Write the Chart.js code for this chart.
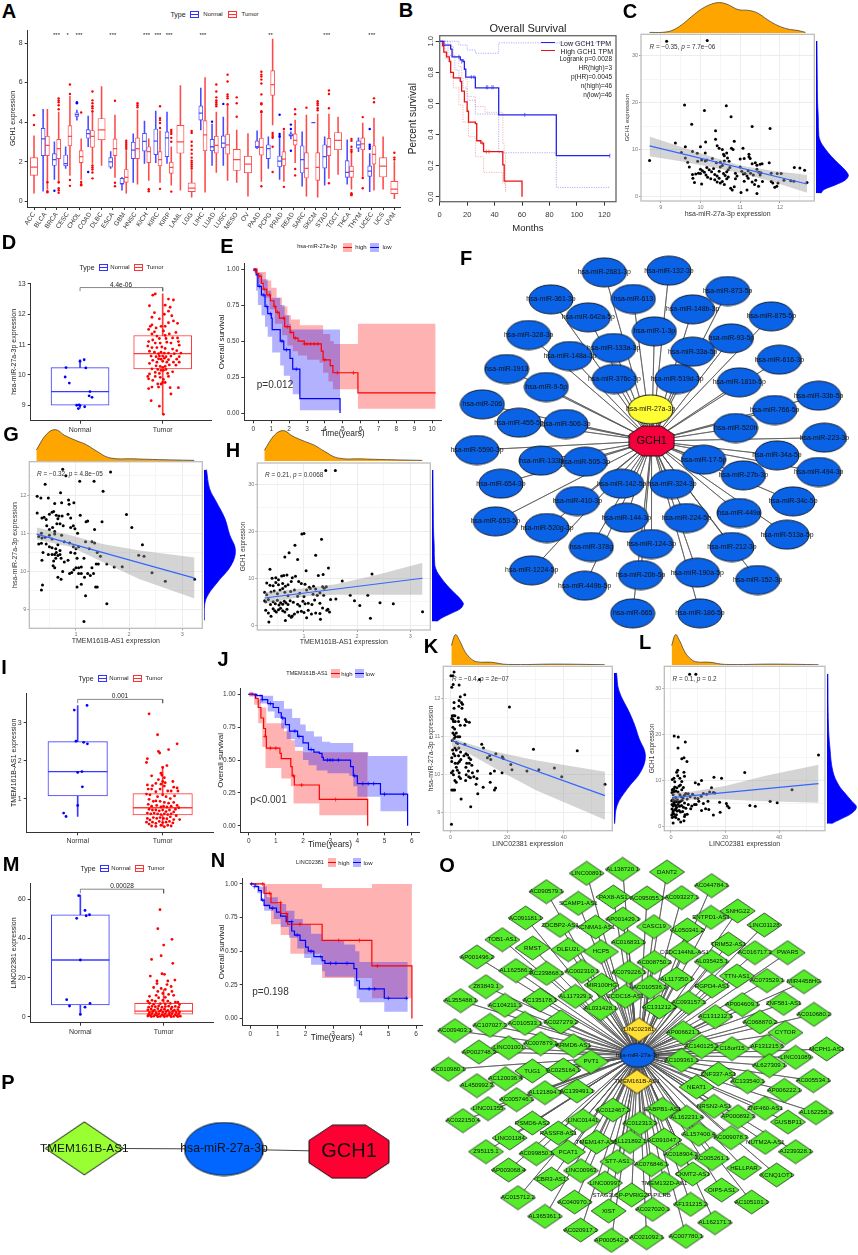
<!DOCTYPE html>
<html>
<head>
<meta charset="utf-8">
<title>GCH1 ceRNA figure</title>
<script src="https://cdn.jsdelivr.net/npm/chart.js@4/dist/chart.umd.min.js"></script>
<style>
  html,body{margin:0;background:#fff;}
  #page{position:relative;width:858px;height:1255px;overflow:hidden;font-family:"Liberation Sans",Arial,sans-serif;}
  #page canvas{position:absolute;}
  .lbl{position:absolute;white-space:nowrap;line-height:1;color:#222;}
  .key{position:absolute;box-sizing:border-box;}
</style>
</head>
<body>
<div id="page"></div>
<script>
// ---------- A: GCH1 across tumour types ----------
const cancerTypes = ['ACC','BLCA','BRCA','CESC','CHOL','COAD','DLBC','ESCA','GBM','HNSC','KICH','KIRC','KIRP','LAML','LGG','LIHC','LUAD','LUSC','MESO','OV','PAAD','PCPG','PRAD','READ','SARC','SKCM','STAD','TGCT','THCA','THYM','UCEC','UCS','UVM'];
const n = null;
const normalLow  = [n,.5,1.1,1.65,4.1,2.75,n,1.65,.55,.95,1.9,1.95,1.9,n,n,3.6,1.8,1.8,n,n,2.65,1.65,1.1,3.15,.75,3.97,.8,n,.85,2.5,.48,n,n];
const normalQ1   = [n,2.3,1.8,1.78,4.28,3.18,n,1.72,.85,2.15,2.53,2.35,2.25,n,n,4.1,2.55,2.7,n,n,2.7,2.15,1.73,3.28,1.42,3.97,1.67,n,1.2,2.68,1.25,n,n];
const normalMed  = [n,3.15,2.1,1.9,4.38,3.42,n,1.98,.88,2.58,3.02,3.03,3.2,n,n,4.45,2.75,2.93,n,n,2.75,2.65,2.02,3.33,2.1,3.97,2.25,n,1.45,2.85,1.52,n,n];
const normalQ3   = [n,3.68,2.4,2.33,4.47,3.62,n,2.2,1.15,2.98,3.43,3.65,3.5,n,n,4.82,3.12,3.3,n,n,3.05,2.85,2.28,3.4,2.8,3.97,2.85,n,2.05,3.05,1.78,n,n];
const normalHigh = [n,4.65,3,2.75,4.6,4.3,n,2.5,1.2,3.4,4.05,4.55,4.5,n,n,5.72,3.9,4.25,n,n,3.55,3.25,3.2,3.5,3.5,3.97,3.25,n,3.1,3.2,2.4,n,n];
const tumorLow   = [.4,.6,.9,1.3,1.1,1.9,1.8,1.2,.4,.85,1.05,.95,.8,.55,.2,.45,1.45,1.05,.95,.25,1,3.85,1,1.95,.25,.2,1.15,1.35,.6,1.25,.55,.6,.12];
const tumorQ1    = [1.3,2.3,2.15,2.8,1.95,2.72,3.1,2.3,.95,2.15,1.95,1.78,1.4,2.42,.48,2.55,2.43,2.38,1.55,1.43,2.33,5.35,1.8,2.83,1.17,1.05,2.3,2.6,1.2,2.6,1.87,1.22,.38];
const tumorMed   = [1.72,2.82,2.65,3.28,2.25,3.28,3.6,2.65,1.2,2.65,2.5,2.1,1.7,3,.65,3.35,2.82,2.85,2.1,1.87,2.72,5.9,2.12,3.07,1.65,1.7,2.75,3.07,1.5,2.9,2.37,1.77,.6];
const tumorQ3    = [2.2,3.28,3.12,3.82,2.55,3.57,4.18,3.15,1.6,3.2,2.75,2.5,1.97,3.83,.92,4.07,3.28,3.38,2.62,2.27,3.18,6.6,2.5,3.4,2.45,2.45,3.17,3.47,1.77,3.2,2.8,2.2,1];
const tumorHigh  = [3.3,4.65,4.5,5.3,3.15,4.5,5.8,4.35,2.55,4.6,3.15,3.55,2.75,5.85,1.55,6.25,4.5,4.85,3.6,3.42,4.4,8.2,3.55,4.1,4.35,4.4,4.4,4.25,2.6,3.95,4.2,3.25,2];
const normalOutliers = [[],[],[.52],[],[5,4.95],[1.47],[],[],[],[],[],[],[],[],[],[],[4.02],[4.92],[],[],[],[],[4.37,3.4,3.3,3.25],[3.87,3.65,2.55],[],[],[],[],[],[],[3.65,2.85,2.75,2.65],[],[]];
const tumorOutliers = [[3.85,4.35],[.45,.5,.95],[5.2,5.1,5,4.85,4.65,.95,.65,.55,.42],[5.9,5.42,1.07,.77],[4.48,.97,.85,.8],[5.55,5.1,4.95,4.8,4.7,4.55,1.8,1.7,1.6,1.45,1.15],[],[5.08,.93,.75],[3.05,2.95,2.85,2.75,2.65],[4.95,4.85,4.75],[.6,.5],[4.8,4.2,4.1,3.95,3.7,.62],[3.6,3.5,3.4,3.2,3,.48],[],[3.55,3.45,3,2.8,2.6,2.4,2.2,2.05,1.95,1.85,1.75,1.65],[],[5.9,5.55,5.25,5.1,5,4.9,4.8],[6.4,6.05,5.4,5.3,5.2,4.9],[5.25,4.95,4.27],[],[6.55,6.4,6.3,6.15,5.95,5.4,4.95,4.9,4.55,4.5,.75],[3.45,3.35,3.25,3.2,2.75,1.47],[3.65,.72],[4.65,4.4,1.62,1.3],[4.73],[5.05,4.95,4.85,4.7,4.6],[5.6,5.42,4.7,.9],[],[3.15,3.05,2.75,2.6,2.5,.4,.35,.3],[4.25,1.17,.65],[5.2,5],[],[2.45,2.2,2.1]];
const starCategories = [2,3,4,7,10,11,12,15,21,26,30];
const starTexts = ['***','*','***','***','***','***','***','***','**','***','***'];

// ---------- B: GEPIA survival ----------
const bLow  = [[0,1],[3,.975],[8,.95],[9,.9],[15,.88],[17,.87],[18,.82],[19,.77],[26,.7],[43,.527],[85,.264],[124,.264]];
const bHigh = [[0,1],[2,.97],[3,.93],[5,.9],[7,.87],[8,.8],[10,.765],[15,.74],[16,.68],[18,.61],[20,.55],[21,.48],[26,.47],[27,.36],[30,.345],[32,.29],[46,.205],[47,.1],[60,0]];
const bLowUpper  = [[0,1],[13,.998],[14,.976],[20,.944],[26,.923],[43,.99],[125,.99]];
const bLowLower  = [[0,1],[6,.91],[11,.815],[14,.75],[17,.7],[20,.62],[26,.532],[43,.283],[85,.06],[124,.06]];
const bHighUpper = [[0,1],[8,.966],[10,.9],[14,.837],[16,.76],[20,.644],[26,.58],[33,.543],[43,.543],[46,.343],[47,.28],[48,.03]];
const bHighLower = [[0,1],[4,.89],[8,.77],[10,.7],[14,.59],[17,.48],[21,.386],[26,.257],[32,.157],[43,.157],[46,.086],[48,.03]];
const bLowCensor = [[14,.9],[16,.87],[23,.77],[25,.77],[34,.704],[35,.704],[38,.704],[39,.704],[62,.527],[124,.264]];
const bHighCensor = [[31,.345],[34,.29],[36,.29]];

// ---------- C, G, H, K, L: correlation scatter ----------
const cPoints = [[9.15,33],[10.17,33.2],[9.6,19.5],[10.1,18.3],[10.65,19.3],[10.77,17],[9.78,15.4],[11.3,14.9],[11.75,14.5],[10.38,14],[10.38,12.2],[9.37,11.4],[10.13,11.6],[10.85,11.8],[9.62,10.6],[10,10.6],[10.42,10.8],[10.47,10.3],[10.55,10],[10.78,10.3],[10.82,10],[11.07,10.3],[9.52,9.4],[9.8,9.6],[9.92,9.2],[10.12,9.3],[10.58,9],[10.66,9.3],[10.6,8.7],[11.22,9],[11.22,8.5],[11.25,8.1],[9.62,8.2],[9.68,7.3],[9.72,6.3],[9.93,7.5],[10.03,7.8],[10.12,7.6],[10.16,7.8],[10.3,8.1],[10.4,7.2],[10.5,7.3],[10.6,7.6],[10.68,8.2],[10.72,7.5],[11,8],[11.1,8.1],[8.72,7.7],[11.3,7],[11.38,7.2],[11.42,6.7],[11.5,6.9],[11.55,7],[11.73,7.2],[12.36,6.2],[12.5,6.1],[12.62,5.6],[9.8,4.7],[9.88,4.8],[9.95,5],[10,4.9],[10,5.8],[10.05,5.5],[10.1,5.2],[10.14,4.6],[10.16,6.2],[10.22,5.7],[10.28,5.3],[10.33,6],[10.36,4.7],[10.42,4.4],[10.47,5.4],[10.5,6.3],[10.55,6.6],[10.58,4.9],[10.62,4.5],[10.66,5.3],[10.7,5.7],[10.74,6.2],[10.88,5],[10.92,4.4],[11,6.3],[11.04,5.4],[11.08,4.8],[11.12,4.9],[11.17,4.4],[11.2,5.5],[11.26,5],[11.33,4.6],[11.42,5.8],[11.47,5.2],[11.52,5.1],[11.5,4.6],[11.78,5],[11.93,4.9],[12.03,4.9],[9.81,3.9],[9.85,3],[10.03,2.7],[10.18,4.1],[10.26,3.8],[10.36,3.6],[10.42,3.1],[10.47,3.9],[10.5,2.9],[10.55,3.2],[10.6,2.6],[10.66,3.8],[10.7,4.2],[10.76,1.8],[10.8,1.4],[10.85,2.1],[10.88,3.8],[11.02,.9],[11.17,1.4],[11.1,3.3],[11.2,3.9],[11.3,3.1],[11.36,2.6],[11.39,3.5],[11.42,.7],[11.46,2.2],[11.56,3.2],[11.78,3.2],[11.82,2.9],[11.87,2],[11.92,2.2],[11.95,2.9],[12.1,3.5],[12.27,3.4],[12.35,3.3],[12.68,3]];
const cFit = [[8.72,10.8],[12.68,2.7]];
const cFitUpper = [[8.72,12.8],[9.5,10.6],[10.5,7.9],[11,6.6],[11.8,5.5],[12.68,4.6]];
const cFitLower = [[8.72,8.6],[9.5,7.5],[10.5,5.9],[11,5],[11.8,3.2],[12.68,.85]];
const cTopDensity = [[8.72,.02],[9.03,.02],[9.28,.08],[9.53,.27],[9.78,.54],[10.03,.79],[10.28,.95],[10.49,1],[10.7,.93],[10.95,.77],[11.24,.74],[11.45,.65],[11.7,.43],[11.96,.24],[12.21,.13],[12.46,.08],[12.65,.02]];
const cRightDensity = [[.03,33],[.04,25],[.05,20],[.07,17],[.08,14],[.12,12],[.3,10],[.55,8],[.85,6],[.97,5],[1,4.4],[.9,3.5],[.6,2.5],[.25,1.5],[.15,.7]];

const gPoints = [[.75,12.67],[.81,12.5],[1.65,12.6],[.42,12.28],[1.07,12.36],[1.34,12.36],[1.51,12.1],[.71,12.06],[.27,11.97],[.34,11.92],[.48,11.92],[.86,11.87],[.87,11.76],[.96,11.8],[.6,11.78],[.73,11.8],[1.95,11.49],[1.08,11.47],[.27,11.53],[.36,11.4],[.4,11.42],[.44,11.36],[.5,11.5],[.55,11.55],[.58,11.57],[.63,11.47],[.68,11.45],[.74,11.45],[.85,11.5],[.9,11.4],[.66,11.38],[.45,11.2],[.5,11.1],[.56,11.15],[.6,11.05],[.64,11.25],[.7,11.25],[.76,11.2],[.9,11.15],[.95,11.2],[.98,11.12],[1.03,11],[.35,11],[.3,10.92],[.36,10.88],[.42,10.9],[.5,10.95],[.55,10.85],[.6,10.98],[.73,10.95],[.78,10.78],[.88,10.75],[.95,10.65],[1,10.6],[1.05,10.65],[1.19,11.3],[1.22,11.32],[1.35,11.1],[1.49,11.3],[2.05,11.15],[2.25,10.7],[2.18,10.43],[2.28,10.4],[2.43,9.97],[2.68,9.75],[3.23,9.8],[.3,10.72],[.35,10.74],[.44,10.72],[.5,10.65],[.55,10.62],[.62,10.6],[.66,10.7],[.7,10.55],[.6,10.45],[.63,10.5],[.66,10.42],[.7,10.45],[.72,10.35],[.55,10.45],[.48,10.45],[.38,10.5],[.36,10.3],[.58,10.28],[.62,10.35],[.78,10.25],[.85,10.3],[.9,10.5],[.98,10.48],[1.02,10.35],[1.05,10.1],[1.1,10.12],[1.15,10.35],[1.18,10.78],[1.25,10.6],[1.3,10.78],[1.35,10.75],[1.4,10.5],[1.46,10.4],[1.3,10.1],[1.38,10.2],[1.42,10.2],[1.58,10.2],[1.72,10.12],[1.87,10.13],[.6,10.1],[.57,10.15],[.66,9.85],[.72,9.8],[.75,10],[.88,9.95],[.92,9.98],[.96,10.05],[1,10.1],[1.05,9.95],[1.1,9.95],[1.16,9.85],[1.22,9.95],[1.27,9.9],[1.33,9.95],[1.02,9.6],[1.1,9.67],[1.37,9.6],[1.4,9.6],[.37,9.65],[.35,9.52],[1.18,9.37],[1.58,9.16],[1.15,8.7]];
const gFit = [[.26,10.98],[3.23,9.83]];
const gFitUpper = [[.26,11.15],[.9,10.95],[1.5,10.72],[2.2,10.55],[3.23,10.37]];
const gFitLower = [[.26,10.83],[.9,10.65],[1.5,10.25],[2.2,9.8],[3.23,9.3]];
const gTopDensity = [[.26,.35],[.45,.85],[.62,1],[.79,.82],[1.01,.65],[1.2,.52],[1.39,.32],[1.64,.1],[2.08,.07],[2.45,.05],[3.23,.02]];
const gRightDensity = [[.08,12.67],[.18,12.17],[.39,11.83],[.66,11.4],[.82,10.96],[1,10.57],[.87,10.17],[.45,9.74],[.13,9.39],[.02,9.13],[.01,8.72]];

const hPoints = [[1.41,32.9],[1.59,32.9],[.96,19.4],[1,19.5],[1.33,18.3],[.83,17],[.72,15.4],[.64,14.5],[1.22,14.9],[.88,14],[1.46,12.2],[.36,11.9],[1.04,11.6],[1.27,10.6],[1.36,10.8],[2.28,10.9],[1.72,9.4],[.4,10],[.47,10.1],[.52,9.7],[.58,10.5],[.62,10.6],[.68,10.7],[.78,10.1],[.84,10.4],[.3,9],[.36,8.5],[.42,8.4],[.47,9.1],[.52,8.6],[.6,8.9],[.65,8.3],[.7,8.6],[.76,9.3],[.9,9.3],[.95,8.9],[1.02,8.7],[1.1,8.1],[1.18,8.3],[1.22,7.7],[1.35,8.2],[1.38,7.9],[1.42,8.2],[.26,7],[.3,6.5],[.38,7.1],[.44,7.3],[.5,6.7],[.55,7.5],[.6,7.8],[.64,7],[.7,6.3],[.75,7.2],[.82,7.5],[.88,6.2],[.92,6.8],[1,6.1],[1.05,7.5],[1.12,7.8],[1.17,6.6],[1.25,6.4],[1.3,6.9],[1.37,6.4],[1.5,5.5],[1.6,5.6],[1.87,6.4],[2.2,6.4],[1.95,5.2],[2.05,4.2],[2.43,4.8],[2.68,4.6],[2.25,1.5],[3.23,2.9],[.28,5],[.26,5.2],[.33,5.5],[.37,4.4],[.42,5],[.46,4.6],[.5,5.3],[.53,4.3],[.56,4.8],[.6,4.5],[.63,5.1],[.66,4.8],[.7,4.4],[.74,5.2],[.8,4.9],[.88,4.5],[.92,4.1],[.98,5.1],[1.02,4.6],[1.08,4.7],[1.15,4.4],[1.2,5.4],[1.3,4.7],[1.35,3.7],[.28,3.2],[.33,2.6],[.38,1.9],[.34,.7],[.42,3.5],[.45,3.1],[.48,2.8],[.52,3.3],[.56,3.6],[.6,3.1],[.64,2.8],[.68,3.4],[.72,2.1],[.78,2],[.82,2.4],[.88,2.8],[.95,3],[1,2.7],[1.08,3.2],[1.14,2.4],[1.22,2.6],[1.3,2.5],[1.31,1.3],[1.43,3.2],[1.48,2.8],[1.45,3.4],[.65,1],[.76,1.7],[1.05,1.6]];
const hFit = [[.26,5.8],[3.23,10]];
const hFitUpper = [[.26,7],[1,7.9],[1.6,8.7],[2.4,10.8],[3.23,13.3]];
const hFitLower = [[.26,4.6],[1,6.2],[1.6,6.5],[2.4,6.5],[3.23,6.5]];
const hTopDensity = [[.26,.35],[.45,.85],[.62,1],[.79,.82],[1.01,.65],[1.2,.52],[1.39,.32],[1.64,.1],[2.08,.07],[2.45,.05],[3.23,.02]];
const hRightDensity = [[.03,33],[.04,25],[.05,20],[.07,17],[.08,14],[.12,12],[.3,10],[.55,8],[.85,6],[.97,5],[1,4.5],[.9,3.5],[.6,2.5],[.3,1.5],[.15,.8]];

const kPoints = [[.3,8.7],[.1,12.6],[1.2,12.7],[.8,12.6],[.4,12.3],[.9,12.37],[3,12.36],[10.2,12.5],[5,12.1],[3.4,12.05],[3,11.95],[1.2,11.9],[3.8,11.9],[4.2,11.85],[1.2,11.75],[2.9,11.8],[4,11.75],[20.8,11.78],[.6,11.55],[1,11.55],[1.5,11.55],[.4,11.48],[.8,11.45],[2.7,11.5],[1,11.4],[1.6,11.4],[2.8,11.4],[3.4,11.3],[5.2,11.45],[5.6,11.4],[6.6,11.38],[5,11.3],[.8,11.25],[1.4,11.2],[.8,11.1],[1.3,11.05],[2,11.1],[1.7,11],[2.6,11],[3.2,11],[.6,10.9],[1.2,10.95],[2,10.85],[2.5,10.82],[5,10.8],[.7,10.65],[1.5,10.7],[2,10.65],[2.9,10.7],[3.5,10.6],[.4,10.45],[1,10.55],[1.5,10.5],[2.8,10.5],[3.6,10.4],[4.7,10.5],[5.4,10.55],[6,10.52],[6.5,10.45],[.4,10.35],[1.6,10.3],[2.5,10.3],[3.1,10.35],[5.7,10.3],[6.6,10.3],[7.1,10.4],[7.5,10.25],[2,10.2],[.8,10.1],[.3,10.05],[1,10],[2.4,10.12],[3,10.05],[5.4,10.2],[6.3,10.1],[7.7,10.05],[9.5,10.1],[1.5,9.85],[2,9.8],[3,9.95],[3.5,9.9],[5.3,9.85],[5.5,10],[6.4,9.95],[7,9.92],[8.2,9.95],[9.3,9.9],[.4,9.6],[.9,9.6],[1.4,9.6],[9,9.75],[9.6,9.5],[11.5,9.67],[14,9.8],[15.5,9.6],[15.9,9.65],[3.7,9.36],[7.1,9.16],[11,10.8],[11.6,10.7],[13,10.45],[13.8,10.5],[14.2,10.4],[16,10.55],[18.3,10.47],[18.6,10.43],[18.2,10.05],[14.1,10.03],[15.5,10.1],[21.3,10.27],[21.7,10.13],[27,10.1],[29.3,10.67],[31.2,10.13],[36.7,10.18],[39.3,9.95],[44.8,10.63],[54.6,9.75]];
const kFit = [[.35,10.9],[54.6,9.45]];
const kFitUpper = [[.35,10.98],[5,10.85],[15,10.62],[30,10.38],[54.6,10.08]];
const kFitLower = [[.35,10.75],[5,10.62],[15,10.2],[30,9.6],[54.6,8.82]];
const kTopDensity = [[.35,.64],[1.8,1],[3.3,.8],[5,.47],[6.8,.25],[9.2,.11],[14.5,.09],[20,.02],[38,.03],[54.6,.01]];
const kRightDensity = [[.08,12.67],[.16,12.2],[.48,11.65],[.66,11.3],[.8,10.95],[1,10.52],[.85,10.08],[.43,9.64],[.1,9.2],[.02,8.72]];

const lPoints = [[6.9,33],[9.2,33],[1.2,19.6],[2.7,19.4],[2.6,17],[5.3,18.3],[4.8,14.9],[4,14.7],[5.9,14.1],[2.5,12.2],[2.1,11.8],[1.1,10.5],[.5,10.2],[1.4,9.7],[2.5,11],[3.3,10.5],[4,9.8],[4.8,11.8],[5,10.9],[9,9.5],[10.2,9.2],[11.3,10],[15.9,10.7],[18.7,10.5],[27.3,11.7],[54.6,15.5],[44.8,8],[.5,8],[1,8.2],[1.4,8.6],[1.8,7.7],[2.2,8.4],[3,8.8],[3.5,9],[4,8],[4.6,8.5],[5.5,7.2],[6.4,7.1],[7.1,6.5],[.4,7.4],[.8,6.9],[1.2,7.6],[1.7,6.3],[2.6,7.5],[3.3,6.9],[3.8,6.5],[4.5,6.2],[5,6.8],[6,6],[8,7],[8.9,6.2],[10,6.1],[11.2,6.6],[12,7.2],[13.2,7],[14.3,7.5],[15,8.4],[15.7,7.4],[16.2,7.3],[.3,5.6],[.7,5.9],[1.1,5.3],[1.5,5.6],[2,5.4],[2.4,5.8],[3,5.3],[3.5,5.5],[4.1,5.7],[5,5.1],[.4,4.8],[.8,4.5],[1.2,4.9],[1.7,4.6],[2.1,4.2],[2.6,4.8],[3.2,4.4],[3.9,4.6],[4.6,4.2],[5.5,4],[6.4,4.8],[7.7,4.5],[8.7,4.8],[9.3,4.8],[10.3,5.5],[12,5],[13.7,5.5],[18,5.3],[20.5,5],[20.9,4.5],[21.5,4.1],[29.2,4.6],[31.2,4.4],[36.7,5.5],[39.3,5.2],[.4,3.8],[.8,3.4],[1,2.8],[1.4,3.6],[1.8,3.9],[2.3,3.4],[3,3.5],[3.5,3.2],[4.3,3.3],[5.2,2.6],[6,2.7],[7.3,3.9],[11.3,3.5],[12.8,3.9],[14,3.7],[15.7,2.5],[18.2,3.1],[.3,2.5],[.5,2],[.8,.8],[1.3,2.2],[2,2.6],[2.8,1.6],[3.6,1],[4.8,1.3],[5,2.2],[1.8,2],[.7,3]];
const lFit = [[.35,6.3],[54.6,9.3]];
const lFitUpper = [[.35,7.3],[8,7.6],[20,8.8],[35,11],[54.6,13.4]];
const lFitLower = [[.35,5.4],[8,5.9],[20,5.9],[35,5.5],[54.6,5.2]];
const lTopDensity = [[.35,.64],[1.8,1],[3.3,.8],[5,.47],[6.8,.25],[9.2,.11],[14.5,.09],[20,.02],[38,.03],[54.6,.01]];
const lRightDensity = [[.03,33],[.05,22],[.1,17],[.2,12],[.4,9],[.65,7],[.85,5.5],[1,4.3],[.85,3],[.5,1.8],[.15,.7]];

// ---------- D, I, M: normal vs tumour boxes ----------
const dNormal = [[-.17,10.24],[0,10.45],[.05,10.5],[.07,10.23],[-.18,9.93],[-.13,9.73],[.12,9.45],[.11,9.31],[.145,9.26],[-.04,9],[0,8.99],[.056,8.95],[-.02,8.89],[-.01,9.01]];
const dTumor = [[.88,12.63],[.91,12.67],[.84,12.28],[1.07,12.5],[1.13,12.47],[1.03,12.3],[1.09,12.23],[1.07,12.1],[.9,12.05],[.87,11.9],[1.02,12],[1.11,11.95],[.96,11.85],[1.13,11.78],[1.07,11.72],[1.18,11.7],[.83,11.5],[.85,11.6],[.87,11.65],[.92,11.55],[.98,11.6],[1.03,11.6],[1.01,11.45],[.9,11.42],[.87,11.35],[.93,11.28],[1.03,11.3],[1.08,11.35],[1.16,11.4],[1.18,11.22],[1.12,11.22],[1.04,11.2],[.96,11.2],[.88,11.15],[.83,11.1],[.91,11.05],[.97,11.05],[1.05,11.08],[1.1,11.05],[1.19,11.1],[1.2,10.98],[.82,10.95],[.87,10.9],[.93,10.9],[.99,10.92],[1.03,10.87],[1.12,10.85],[1.17,10.8],[.84,10.78],[.9,10.75],[.95,10.7],[.98,10.75],[1.02,10.72],[1.07,10.72],[1.14,10.7],[1.22,10.72],[.86,10.62],[.92,10.6],[.96,10.62],[1,10.62],[1.04,10.6],[1.1,10.62],[1.2,10.6],[.95,10.53],[.98,10.52],[1.02,10.55],[1.07,10.5],[1.17,10.52],[.88,10.48],[.93,10.42],[1,10.45],[1.05,10.42],[1.13,10.42],[1.2,10.42],[.84,10.38],[.92,10.3],[.97,10.28],[1,10.25],[1.03,10.28],[1.08,10.33],[1.16,10.32],[.94,10.18],[.98,10.15],[1.01,10.15],[1.04,10.18],[.87,10.2],[.91,10.08],[.84,10.03],[.96,10.05],[1.06,10.05],[1.12,10.1],[.82,9.95],[.91,9.95],[.97,9.92],[1.01,9.85],[1.07,9.95],[.83,9.87],[.88,9.82],[1,9.75],[1.03,9.75],[.94,9.7],[.98,9.7],[.87,9.6],[.95,9.6],[.83,9.55],[1.09,9.58],[1.19,9.58],[1.1,9.37],[.86,9.15],[.96,8.97],[1.01,8.7]];
const dNormalBox = [8.9,9,9.45,10.24,10.5];
const dTumorBox = [8.7,10.2,10.7,11.3,12.67];
const dBracket = [[0,12.76],[0,12.88],[1,12.88],[1,12.76]];

const iNormal = [[-.165,.62],[-.137,.53],[0,.82],[.055,1.31],[0,1.69],[.05,1.71],[-.02,2.51],[.07,2.48],[.114,2.44],[-.04,3.33],[.11,3.45]];
const iTumor = [[.84,3.23],[.94,2.68],[1.17,2.44],[.95,2.24],[.965,2.2],[1.07,2.29],[.82,2.05],[.81,1.95],[1.05,1.87],[1,1.82],[.87,1.6],[.98,1.67],[.99,1.62],[1.02,1.55],[.95,1.5],[1,1.45],[1.03,1.42],[.92,1.4],[1.12,1.45],[.98,1.38],[1.02,1.33],[.82,1.36],[.88,1.34],[1.13,1.3],[1.17,1.28],[.83,1.25],[.87,1.25],[.92,1.18],[.97,1.25],[1.06,1.2],[1.1,1.2],[1.18,1.2],[.81,1.12],[.85,1.1],[.94,1.05],[1,1.1],[1.04,1.05],[1.14,1.07],[1.09,1],[.84,.98],[.89,.93],[.92,.94],[.97,.93],[1.02,.9],[1.07,.88],[1.13,.9],[1.17,.82],[.83,.85],[.87,.8],[.93,.82],[.98,.78],[1.01,.8],[1.05,.78],[1.1,.8],[1.15,.72],[1.19,.76],[.84,.72],[.88,.7],[.92,.7],[.96,.68],[1,.7],[1.04,.66],[1.08,.7],[1.13,.65],[.82,.62],[.86,.6],[.9,.62],[.94,.6],[.98,.58],[1.02,.6],[1.06,.58],[1.1,.6],[1.16,.55],[1.2,.45],[.82,.48],[.85,.44],[.89,.5],[.93,.48],[.97,.5],[1.01,.48],[1.05,.47],[1.09,.52],[1.13,.45],[.81,.38],[.84,.33],[.88,.38],[.92,.35],[.96,.4],[1,.37],[1.04,.38],[1.08,.4],[1.12,.36],[.87,.28],[.92,.27],[.98,.3],[1.02,.26],[1.06,.3],[1.1,.28]];
const iNormalBox = [.53,1.07,1.71,2.5,3.45];
const iTumorBox = [.27,.57,.76,1.13,1.85];
const iBracket = [[0,3.51],[0,3.61],[1,3.61],[1,3.51]];

const mNormal = [[-.02,61.7],[.056,54.2],[-.044,50.2],[.07,51.5],[.11,52],[0,29],[-.164,8.8],[-.13,5.6],[.116,6.9],[.056,5],[0,1.3]];
const mTumor = [[.956,54.6],[.93,44.9],[1.1,39.5],[1,36.6],[.97,31.2],[.855,29.3],[1.11,27.3],[.98,22],[1.01,21.7],[.84,20.8],[1.135,18.8],[1.05,18.3],[.92,18.3],[.92,17],[1.04,16.5],[1.09,15.5],[.88,15],[.97,14.5],[1.02,14],[.93,13],[1.1,13],[.99,12],[1.06,11.5],[.83,10.5],[.91,11],[1.12,11],[.94,9.8],[1.02,10],[.86,8.5],[.81,8],[.9,8],[.99,8.5],[1.05,8],[1.17,7.5],[1.14,7.6],[.83,7],[.88,6.5],[.96,6.8],[1.02,6.6],[1.08,6.9],[1.19,6.3],[.82,5],[.86,5.4],[.9,5.2],[.94,5.6],[.98,5],[1.02,5.3],[1.06,5.5],[1.1,5],[1.14,5.4],[1.18,5],[.81,3.6],[.85,4],[.89,3.5],[.93,4.2],[.97,3.6],[1.01,4],[1.05,3.4],[1.09,4.1],[1.13,3.5],[1.17,3.8],[.83,2.4],[.87,2.8],[.91,2.2],[.95,2.9],[.99,2.4],[1.03,2.7],[1.07,2.2],[1.11,2.8],[1.15,2.3],[1.19,2.6],[.82,1.3],[.86,1.7],[.9,1.2],[.94,1.6],[.98,1.1],[1.02,1.5],[1.06,1.2],[1.1,1.7],[1.14,1.1],[1.18,1.5],[.81,.5],[.84,.8],[.88,.4],[.92,.7],[.96,.3],[1,.6],[1.04,.4],[1.08,.7],[1.12,.3],[1.16,.6],[1.2,.4],[.85,.2],[.93,.15],[1.01,.2],[1.09,.15],[1.17,.2]];
const mNormalBox = [1.3,6.2,29,52,62];
const mTumorBox = [.1,1.4,3,6.9,14];
const mBracket = [[0,62.9],[0,65],[1,65],[1,62.9]];

// ---------- E, J, N: survival with bands ----------
const eHigh = [[0,1],[.2,.97],[.3,.95],[.45,.9],[.55,.86],[.75,.82],[.95,.78],[1.15,.74],[1.25,.7],[1.45,.66],[1.75,.6],[2.05,.56],[2.25,.52],[2.5,.5],[2.85,.48],[3.8,.43],[3.9,.37],[4.3,.33],[4.45,.28],[5.85,.14],[10.2,.14]];
const eLow = [[0,1],[.15,.96],[.25,.88],[.45,.82],[.65,.74],[.8,.69],[1,.66],[1.05,.58],[1.5,.5],[1.7,.44],[2.05,.38],[2.2,.305],[2.6,.1],[4.85,.1],[4.85,0]];
const eHighUpper = [[0,1],[.3,.98],[.7,.92],[1,.87],[1.3,.8],[1.6,.74],[1.9,.68],[2.1,.65],[2.6,.61],[3.8,.61],[3.9,.55],[4.3,.5],[4.5,.48],[5.85,.62],[10.2,.62]];
const eHighLower = [[0,1],[.3,.9],[.6,.8],[.9,.72],[1.2,.62],[1.6,.54],[1.9,.47],[2.2,.43],[2.5,.4],[3,.37],[3.7,.35],[3.9,.28],[4.2,.22],[4.45,.165],[5.85,.03],[10.2,.03]];
const eLowUpper = [[0,1],[.2,.97],[.5,.93],[.8,.85],[1,.8],[1.5,.75],[1.75,.68],[2,.62],[2.1,.58],[4.85,.58]];
const eLowLower = [[0,1],[.15,.85],[.25,.75],[.45,.68],[.65,.6],[.8,.53],[1.05,.42],[1.5,.33],[1.7,.26],[2.05,.2],[2.2,.13],[2.6,.02],[4.85,.02]];
const eHighCensor = [[.1,.99],[.3,.95],[.6,.86],[.9,.82],[1.2,.74],[1.35,.7],[1.7,.66],[1.9,.6],[2.1,.56],[2.35,.52],[2.85,.48],[3,.48],[3.2,.48],[3.4,.48],[3.6,.48],[4,.37],[4.7,.28],[5.6,.28]];
const eLowCensor = [[.1,.99],[.35,.88],[.55,.82],[.75,.74],[.95,.69],[1.6,.5],[1.85,.44],[2.4,.305]];

const jHigh = [[0,1],[.25,.97],[.35,.9],[.45,.82],[.55,.74],[.62,.68],[.65,.59],[1.15,.55],[1.2,.51],[1.55,.45],[1.6,.38],[1.68,.31],[2.6,.2],[4.38,.2],[4.38,0]];
const jLow = [[0,1],[.3,.99],[.5,.96],[.7,.93],[.9,.9],[1.1,.86],[1.2,.82],[1.35,.77],[1.5,.72],[1.8,.68],[2,.63],[2.2,.58],[2.4,.56],[2.6,.55],[2.7,.52],[2.75,.5],[3.75,.45],[3.85,.38],[4,.32],[4.85,.24],[5.85,.24],[5.85,0]];
const jHighUpper = [[0,1],[.3,.96],[.45,.9],[.65,.78],[1.05,.78],[1.3,.72],[1.55,.65],[1.7,.57],[2,.56],[4.38,.56]];
const jHighLower = [[0,1],[.2,.92],[.35,.78],[.5,.6],[.62,.44],[1,.44],[1.2,.36],[1.55,.3],[1.65,.17],[2.6,.08],[4.38,.08]];
const jLowUpper = [[0,1],[.5,.99],[.9,.95],[1.3,.89],[1.6,.82],[1.9,.77],[2.1,.72],[2.4,.68],[2.7,.64],[3,.63],[3.85,.56],[4.4,.53],[5.85,.52]];
const jLowLower = [[0,1],[.4,.93],[.7,.87],[.95,.82],[1.2,.74],[1.4,.66],[1.7,.6],[2,.5],[2.2,.46],[2.5,.42],[2.9,.4],[3.7,.38],[3.85,.3],[4,.22],[4.85,.11],[5.85,.11]];
const jHighCensor = [[.1,1],[.6,.68],[.8,.59],[1,.59],[1.65,.38],[1.95,.31],[3.2,.2]];
const jLowCensor = [[.05,1],[.15,1],[.25,.99],[.5,.96],[.8,.93],[1.25,.82],[1.7,.72],[1.85,.68],[2.3,.58],[2.9,.5],[3,.5],[3.1,.5],[3.3,.5],[3.9,.38],[4.2,.32],[4.4,.32],[4.6,.32],[5,.24],[5.7,.24]];

const nHigh = [[0,1],[.5,.93],[.75,.86],[1.1,.78],[1.35,.7],[2.6,.58],[4.4,.39],[5.85,.39],[5.85,0]];
const nLow = [[0,1],[.2,.98],[.3,.95],[.4,.88],[.5,.84],[.7,.82],[.95,.79],[1.1,.76],[1.3,.72],[1.5,.65],[1.6,.62],[1.8,.58],[2,.53],[2.1,.5],[2.3,.46],[2.6,.43],[2.7,.41],[3.75,.37],[3.85,.28],[3.95,.22],[4.85,.15],[5.7,.15]];
const nHighUpper = [[0,1],[2.6,.97],[4.4,1],[5.85,1]];
const nHighLower = [[0,1],[.5,.83],[.75,.7],[1.1,.62],[1.45,.48],[2.6,.3],[4.4,.15],[5.85,.15]];
const nLowUpper = [[0,1],[.3,.98],[.6,.9],[1,.85],[1.3,.8],[1.6,.74],[1.9,.7],[2.2,.63],[2.6,.58],[3.4,.55],[3.8,.5],[3.95,.42],[5.7,.42]];
const nLowLower = [[0,1],[.25,.93],[.5,.8],[.85,.74],[1.1,.68],[1.4,.6],[1.7,.52],[1.95,.45],[2.2,.4],[2.6,.35],[2.7,.31],[3.75,.24],[3.85,.15],[3.95,.12],[4.85,.05],[5.7,.05]];
const nHighCensor = [[.45,1],[.7,.93],[1.1,.86],[1.3,.78],[1.8,.7],[3.2,.58],[3.95,.58],[4.6,.39]];
const nLowCensor = [[.05,1],[.15,.98],[.45,.88],[.8,.82],[1.5,.72],[1.7,.62],[2.2,.5],[2.55,.46],[2.9,.41],[3.1,.41],[3.5,.41],[4.3,.22],[4.5,.22],[5,.15],[5.65,.15]];

// ---------- F, O, P: networks (layout units are free, three per page pixel) ----------
const fHub = ['GCH1',680,603];
const fLink = ['hsa-miR-27a-3p',677,508];
const fNodes = [['hsa-miR-2681-3p',538,97],['hsa-miR-132-3p',732,92],['hsa-miR-361-3p',378,178],['hsa-miR-613',625,177],['hsa-miR-873-5p',908,153],['hsa-miR-148b-3p',803,208],['hsa-miR-642a-5p',490,232],['hsa-miR-875-5p',1039,229],['hsa-miR-328-3p',311,285],['hsa-miR-1-3p',688,274],['hsa-miR-93-5p',919,295],['hsa-miR-133a-3p',566,324],['hsa-miR-33a-5p',803,335],['hsa-miR-148a-3p',435,348],['hsa-miR-616-3p',1063,359],['hsa-miR-1913',245,387],['hsa-miR-376c-3p',568,417],['hsa-miR-519d-3p',756,417],['hsa-miR-181b-5p',943,427],['hsa-miR-9-5p',364,441],['hsa-miR-33b-5p',1181,467],['hsa-miR-206',172,493],['hsa-miR-766-5p',1049,510],['hsa-miR-455-5p',282,548],['hsa-miR-506-3p',423,552],['hsa-miR-520h',932,564],['hsa-miR-223-3p',1198,593],['hsa-miR-5590-3p',156,630],['hsa-miR-34a-5p',1056,646],['hsa-miR-133b',348,662],['hsa-miR-505-3p',481,665],['hsa-miR-17-5p',836,659],['hsa-miR-494-3p',1181,696],['hsa-miR-654-3p',228,731],['hsa-miR-27b-3p',955,706],['hsa-miR-142-5p',590,731],['hsa-miR-324-3p',741,732],['hsa-miR-410-3p',457,783],['hsa-miR-34c-5p',1104,784],['hsa-miR-449a',942,819],['hsa-miR-653-5p',211,844],['hsa-miR-520g-3p',366,864],['hsa-miR-144-3p',604,833],['hsa-miR-224-5p',784,834],['hsa-miR-513a-5p',1086,884],['hsa-miR-378g',499,921],['hsa-miR-124-3p',679,912],['hsa-miR-212-3p',921,921],['hsa-miR-1224-5p',320,991],['hsa-miR-190a-5p',817,998],['hsa-miR-152-3p',998,1020],['hsa-miR-449b-5p',479,1037],['hsa-miR-20b-5p',647,1005],['hsa-miR-665',623,1120],['hsa-miR-186-5p',825,1120]];

const oHub = ['hsa-miR-27a-3p',623,601];
const oLinks = [['LINC02381',627,524],['TMEM161B-AS1',621,680]];
const oNodes = [['LINC00891',470,55],['AL138720.1',578,43],['DANT2',711,51],['AC090579.1',349,110],['AC044784.1',845,92],['SCAMP1-AS1',445,145],['PAX8-AS1',550,126],['AC095055.1',651,129],['AC093227.1',755,128],['AC091181.1',287,189],['ZDCBP2-AS1',390,211],['KCNMA1-AS1',497,216],['AP001429.1',579,192],['ENTPD1-AS1',843,187],['SNHG22',923,168],['CASC19',672,215],['AL050341.2',772,225],['LINC01128',1003,210],['TOB1-AS1',217,254],['RMST',308,279],['DLEU2L',415,284],['HCP5',513,290],['AC016831.1',595,262],['TRIM52-AS1',895,267],['AC016717.2',975,293],['PWAR5',1073,293],['AP001496.2',141,306],['CCDC144NL-AS1',763,292],['AC008750.2',673,322],['AL035425.1',845,320],['AL162586.2',258,347],['AC239868.1',350,355],['AC002310.1',456,349],['AC079226.1',597,352],['TTN-AS1',921,363],['AC073529.1',1011,377],['MIR4458HG',1122,380],['AL117350.1',740,372],['MIR100HG',515,390],['Z83843.1',168,395],['AC010536.2',660,397],['RGPD4-AS1',846,393],['AC135178.1',330,435],['AL117329.1',436,424],['CCDC18-AS1',586,424],['AL355488.1',92,437],['AC104211.1',225,451],['AC131212.2',688,456],['AC093157.1',776,443],['AP004609.1',937,449],['ZNF581-AS1',1061,445],['AL031428.1',512,461],['AC131212.3',856,485],['AC010680.2',1152,478],['AC107027.3',180,511],['AC010533.1',285,505],['AC027279.2',393,501],['AC068870.2',990,501],['AC009403.1',75,527],['AP006621.1',760,533],['CYTOR',1066,533],['AC007879.1',332,566],['ARMD6-AS1',430,572],['AP002748.3',147,591],['LINC01001',236,578],['AC140125.2',815,575],['C18orf15',906,581],['AF131215.6',1011,574],['MCPH1-AS1',1190,582],['LINC01089',1097,607],['AC109361.1',755,616],['PVT1',483,620],['AC010980.1',55,643],['AL627309.1',1018,632],['TUG1',307,648],['AC025164.1',400,645],['ZNF337-AS1',865,657],['AC120036.4',226,671],['AC133540.1',953,680],['AC005534.1',1150,677],['AL450992.2',141,692],['NEAT1',800,696],['AP006222.1',1063,706],['AC139491.1',441,708],['AL121894.3',345,713],['AC005746.1',260,734],['NRSN2-AS1',852,754],['LINC01355',174,761],['GABPB1-AS1',697,763],['AC012467.2',549,765],['AL162258.2',1158,773],['ZNF460-AS1',1005,760],['AP000892.3',924,785],['AL162231.4',770,787],['AC022150.4',99,797],['LINC01441',459,797],['GUSBP11',1074,801],['PSMD6-AS2',307,804],['AC012313.3',630,805],['RASSF8-AS1',385,834],['AL157400.4',806,838],['AC009078.3',903,848],['LINC01184',239,849],['NUTM2A-AS1',1006,862],['TMEM147-AS1',500,861],['AL121892.1',600,860],['AC091047.1',703,855],['PCAT1',414,891],['Z95115.1',168,890],['AC099850.1',319,896],['AJ239328.1',1097,890],['AC018904.2',753,899],['AC005261.1',846,911],['ST7-AS1',562,920],['AC076846.1',664,929],['HELLPAR',942,939],['AP003068.4',236,945],['LINC00963',453,947],['CBR3-AS1',364,972],['CKMT2-AS1',788,957],['KCNQ1OT1',1040,960],['LINC00997',525,984],['TMEM132D-AS1',703,985],['OIP5-AS1',875,1005],['STAG3L5P-PVRIG2P-PILRB',605,1020],['AC015712.2',264,1028],['AC040970.1',434,1041],['AF131215.2',782,1048],['AC105101.1',965,1041],['AC027020.1',668,1063],['XIST',536,1068],['AL365361.1',345,1084],['AL162171.3',855,1103],['AC020917.1',452,1125],['AC021092.1',650,1148],['AC007780.1',768,1144],['AP000542.2',544,1156]];

const pLnc = ['TMEM161B-AS1',253,325];
const pMir = ['hsa-miR-27a-3p',672,327];
const pGene = ['GCH1',1047,335];

// ---------- helpers ----------
Chart.defaults.font.family = '"Liberation Sans", Arial, sans-serif';
Chart.defaults.animation = false;
Chart.defaults.responsive = false;
Chart.defaults.plugins.legend.display = false;
Chart.defaults.plugins.tooltip.enabled = false;
Chart.defaults.events = [];
Chart.defaults.layout.autoPadding = false;

const page = document.getElementById('page');
const toXY = p => ({x:p[0],y:p[1]});

function label(html,x,y,o={}){
  const d=document.createElement('div');
  d.className='lbl';
  d.innerHTML=html;
  const dx = o.align==='right' ? '-100%' : o.align==='left' ? '0' : '-50%';
  d.style.cssText=`left:${x}px;top:${y}px;font-size:${o.size||7}px;font-weight:${o.bold?'bold':'normal'};color:${o.color||'#222'};transform:translate(${dx},-50%)`;
  page.appendChild(d);
}
function key(x,y,w,h,border,fill){
  const d=document.createElement('div');
  d.className='key';
  d.style.cssText=`left:${x}px;top:${y}px;width:${w}px;height:${h}px;background:${fill||'transparent'};border:${fill?'0':'1px solid '+border}`;
  const m=document.createElement('div');
  m.style.cssText=`position:absolute;left:0;right:0;top:${(fill?h:h-2)/2-.5}px;height:1px;background:${border}`;
  d.appendChild(m);
  page.appendChild(d);
}
function typeLegend(y,tx,k1,nx,k2,ux){
  label('Type',tx,y,{size:7});
  key(k1,y-3.5,8.5,7,'#3333ff');
  label('Normal',nx,y,{size:6});
  key(k2,y-3.5,8.5,7,'#ff3333');
  label('Tumor',ux,y,{size:6});
}
function survivalLegend(y,name,nameX,k1,hx,k2,lx){
  label(name,nameX,y,{size:5.5});
  key(k1,y-4.5,8.5,9,'#ff0000','#ffb3b3');
  label('high',hx,y,{size:6});
  key(k2,y-4.5,8.5,9,'#0000ff','#b3b3ff');
  label('low',lx,y,{size:6});
}

// text written next to a mark: stars over boxes, names on network nodes
const textOnPoints = {
  id:'textOnPoints',
  afterDatasetsDraw(chart){
    const ctx=chart.ctx;
    chart.data.datasets.forEach((ds,i)=>{
      if(!ds.pointTexts) return;
      const meta=chart.getDatasetMeta(i);
      ctx.save();
      ctx.font=`${ds.textSize}px "Liberation Sans", Arial, sans-serif`;
      ctx.fillStyle=ds.textColor||'#111';
      ctx.textAlign='center';
      ctx.textBaseline='middle';
      ds.pointTexts.forEach((t,j)=>ctx.fillText(t,meta.data[j].x,meta.data[j].y));
      ctx.restore();
    });
  }
};
const plotFrame = color => ({
  id:'plotFrame',
  afterDraw(chart){
    const a=chart.chartArea,ctx=chart.ctx;
    ctx.save();
    ctx.strokeStyle=color;
    ctx.lineWidth=1.3;
    ctx.strokeRect(a.left,a.top,a.right-a.left,a.bottom-a.top);
    ctx.restore();
  }
});

function addCanvas(L,T,W,H){
  const c=document.createElement('canvas');
  c.width=W; c.height=H;
  c.style.left=L+'px'; c.style.top=T+'px';
  page.appendChild(c);
  return c;
}
// chart whose plot area sits at plot=[l,t,r,b] inside a canvas at outer=[L,T,R,B]
function placedChart(plot,outer,datasets,xAxis,yAxis,plugins=[]){
  const [l,t,r,b]=plot,[L,T,R,B]=outer;
  const zero=s=>{s.paddingLeft=s.paddingRight=s.paddingTop=s.paddingBottom=0;};
  xAxis.afterFit=s=>{s.height=B-b;zero(s);};
  yAxis.afterFit=s=>{s.width=l-L;zero(s);};
  return new Chart(addCanvas(L,T,R-L,B-T),{
    type:'line',
    data:{datasets},
    options:{
      layout:{padding:{top:t-T,right:R-r,left:0,bottom:0}},
      scales:{x:xAxis,y:yAxis}
    },
    plugins:[textOnPoints,...plugins]
  });
}
function classicAxis(min,max,step,title,o={}){
  return {
    type:'linear',min,max,offset:false,
    ticks:{stepSize:step,includeBounds:false,autoSkip:false,color:o.tickColor||'#333',font:{size:o.tickSize||7},padding:o.pad===undefined?2:o.pad,callback:o.format||(v=>v),
      maxRotation:o.rotate||0,minRotation:o.rotate||0,crossAlign:o.crossAlign||'near'},
    grid:{offset:false,drawOnChartArea:false,tickLength:o.tickLength||3,tickColor:'#333'},
    border:{color:o.borderColor||'#333',width:1},
    title:{display:!!title,text:title,color:'#222',font:{size:o.titleSize||7},padding:0}
  };
}
function gridAxis(min,max,minor,major,title,titleSize){
  const isMajor=v=>Math.abs(v/major-Math.round(v/major))<1e-6;
  const val=c=>c.tick?c.tick.value:0;
  return {
    type:'linear',min,max,
    ticks:{stepSize:minor,includeBounds:false,autoSkip:false,color:'#777',font:{size:5.5},padding:1,maxRotation:0,
      callback:v=>isMajor(v)?v:''},
    grid:{color:c=>isMajor(val(c))?'#e9e9e9':'#f4f4f4',tickColor:c=>isMajor(val(c))?'#888':'rgba(0,0,0,0)',tickLength:2,lineWidth:.8},
    border:{display:false},
    title:{display:true,text:title,color:'#333',font:{size:titleSize||7},padding:0}
  };
}
const scatterSet=(pts,color,r)=>({type:'scatter',data:pts.map(toXY),pointRadius:r,pointBackgroundColor:color,pointBorderWidth:0,showLine:false,clip:false});

// one box: whisker, box and median as three library marks
function boxSets(xs,low,q1,med,q3,high,color,width,lw){
  return [
    {type:'bar',order:5,grouped:false,barThickness:lw||1,backgroundColor:color,data:xs.map((x,i)=>({x,y:[low[i],high[i]]}))},
    {type:'bar',order:4,grouped:false,barThickness:width,backgroundColor:'#fff',borderColor:color,borderWidth:lw||1,borderSkipped:false,data:xs.map((x,i)=>({x,y:[q1[i],q3[i]]}))},
    {type:'scatter',order:3,pointStyle:'line',pointRadius:width/2,pointBorderColor:color,pointBorderWidth:(lw||1)*1.4,showLine:false,data:xs.map((x,i)=>({x,y:med[i]}))}
  ];
}

// ---------- A ----------
(function(){
  const sets=[];
  const pick=(arr,ids)=>ids.map(i=>arr[i]);
  const both=cancerTypes.map((c,i)=>i).filter(i=>normalQ1[i]!==null);
  const solo=cancerTypes.map((c,i)=>i).filter(i=>normalQ1[i]===null);
  sets.push(...boxSets(both.map(i=>i-.19),pick(normalLow,both),pick(normalQ1,both),pick(normalMed,both),pick(normalQ3,both),pick(normalHigh,both),'#4a4aff',4,.9));
  sets.push(...boxSets(both.map(i=>i+.19),pick(tumorLow,both),pick(tumorQ1,both),pick(tumorMed,both),pick(tumorQ3,both),pick(tumorHigh,both),'#ff4a4a',4,.9));
  sets.push(...boxSets(solo,pick(tumorLow,solo),pick(tumorQ1,solo),pick(tumorMed,solo),pick(tumorQ3,solo),pick(tumorHigh,solo),'#ff4a4a',7.3,.9));
  const nOut=[],tOut=[];
  normalOutliers.forEach((l,i)=>l.forEach(v=>nOut.push([i-.19,v])));
  tumorOutliers.forEach((l,i)=>l.forEach(v=>tOut.push([normalQ1[i]===null?i:i+.19,v])));
  sets.push(scatterSet(nOut,'#0000ff',1.2));
  sets.push(scatterSet(tOut,'#ff0000',1.2));
  sets.push({type:'scatter',pointRadius:0,showLine:false,data:starCategories.map(i=>({x:i,y:8.4})),pointTexts:starTexts,textSize:6,textColor:'#222'});
  const xa=classicAxis(-.56,32.5,1,'',{rotate:55,tickSize:6.5,pad:1,format:v=>cancerTypes[v]});
  const ya=classicAxis(-.3,8.66,2,'GCH1 expression',{tickSize:7});
  placedChart([27.7,30,400,207],[9,26,404,236],sets,xa,ya);
  label('Type',178,14,{size:7});
  key(190,11,9,6.5,'#3333ff');
  label('Normal',213,14,{size:6});
  key(228,11,9,6.5,'#ff3333');
  label('Tumor',250,14,{size:6});
})();

// ---------- B ----------
(function(){
  const dotted=(pts,color)=>({data:pts.map(toXY),stepped:'before',borderColor:color,borderWidth:.8,borderDash:[1.2,1.2],pointRadius:0});
  const solid=(pts,color)=>({data:pts.map(toXY),stepped:'before',borderColor:color,borderWidth:1.3,pointRadius:0});
  const cross=(pts,color)=>({type:'scatter',data:pts.map(toXY),pointStyle:'line',rotation:90,pointRadius:2,pointBorderColor:color,pointBorderWidth:.7,showLine:false});
  const sets=[cross(bLowCensor,'#3333ee'),cross(bHighCensor,'#ee3333'),solid(bLow,'#2222ee'),solid(bHigh,'#ee1111'),
    dotted(bLowUpper,'#9a9af5'),dotted(bLowLower,'#9a9af5'),dotted(bHighUpper,'#f5a0a0'),dotted(bHighLower,'#f5a0a0')];
  const xa=classicAxis(0,128.5,20,'Months',{tickSize:7.5,titleSize:9.5,tickLength:4,pad:5,borderColor:'transparent'});
  const ya=classicAxis(-.032,1.036,.2,'Percent survival',{tickSize:7.5,titleSize:10,tickLength:4,pad:0,rotate:90,crossAlign:'center',format:v=>v.toFixed(1),borderColor:'transparent'});
  placedChart([439.7,35.7,616,201.7],[407,30,622,234],sets,xa,ya,[plotFrame('#666')]);
  label('Overall Survival',528,28,{size:11});
  label('Low GCH1 TPM',611,43,{size:7,align:'right'});
  label('High GCH1 TPM',613,50.5,{size:7,align:'right'});
  label('Logrank p=0.0028',612,59,{size:6.5,align:'right'});
  label('HR(high)=3',612,68,{size:6.5,align:'right'});
  label('p(HR)=0.0045',612,77,{size:6.5,align:'right'});
  label('n(high)=46',612,86,{size:6.5,align:'right'});
  label('n(low)=46',612,95,{size:6.5,align:'right'});
  key(541,42.3,14,1.2,'#2222ee','#2222ee');
  key(541,49.6,14,1.2,'#ee1111','#ee1111');
})();

// ---------- scatter panels ----------
function scatterPanel(plot,outer,pts,fit,up,lo,xa,ya){
  const sets=[
    {data:fit.map(toXY),borderColor:'#3366ff',borderWidth:1.2,pointRadius:0},
    {data:up.map(toXY),borderWidth:0,pointRadius:0,fill:'+1',backgroundColor:'rgba(153,153,153,.42)'},
    {data:lo.map(toXY),borderWidth:0,pointRadius:0},
    scatterSet(pts,'#000',1.5)
  ];
  placedChart(plot,outer,sets,xa,ya,[plotFrame('#bdbdbd')]);
}
function topDensity(rect,xmin,xmax,pts){
  const [L,T,R,B]=rect.map(Math.round);
  new Chart(addCanvas(L,T,R-L,B-T),{type:'line',
    data:{datasets:[{data:pts.map(toXY),tension:.4,fill:'origin',backgroundColor:'#ffa500',borderColor:'#333',borderWidth:.7,pointRadius:0}]},
    options:{scales:{x:{type:'linear',display:false,min:xmin,max:xmax},y:{display:false,min:0,max:1.02}}}
  });
}
function rightDensity(rect,ymin,ymax,pts){
  const [L,T,R,B]=rect.map(Math.round);
  new Chart(addCanvas(L,T,R-L,B-T),{type:'line',
    data:{datasets:[{data:pts.map(toXY),tension:.4,fill:'origin',backgroundColor:'#0000ff',borderColor:'#0000ee',borderWidth:.7,pointRadius:0}]},
    options:{indexAxis:'y',scales:{x:{type:'linear',display:false,min:0,max:1.02},y:{type:'linear',display:false,min:ymin,max:ymax}}}
  });
}

scatterPanel([641,34.3,814.3,201],[624,31,818,218],cPoints,cFit,cFitUpper,cFitLower,
  gridAxis(8.505,12.863,.5,1,'hsa-miR-27a-3p expression'),gridAxis(-.92,34.5,5,10,'GCH1 expression',6));
topDensity([641,2,814.3,33],8.505,12.863,cTopDensity);
rightDensity([816,34.3,849,201],-.92,34.5,cRightDensity);
label('<i>R</i> = −0.35, <i>p</i> = 7.7e−06',649.5,47,{size:6.4,align:'left',color:'#333'});

scatterPanel([29.3,461.7,202.3,628.3],[11,458,206,645],gPoints,gFit,gFitUpper,gFitLower,
  gridAxis(.122,3.376,.5,1,'TMEM161B-AS1 expression'),gridAxis(8.52,12.87,.5,1,'hsa-miR-27a-3p expression'));
topDensity([29.3,429,202.3,460.5],.122,3.376,gTopDensity);
rightDensity([204,461.7,236,628.3],8.52,12.87,gRightDensity);
label('<i>R</i> = −0.32, <i>p</i> = 4.8e−05',37,474,{size:6.4,align:'left',color:'#333'});

scatterPanel([257.3,463,430.3,630],[239,460,434,646],hPoints,hFit,hFitUpper,hFitLower,
  gridAxis(.122,3.376,.5,1,'TMEM161B-AS1 expression'),gridAxis(-1,34.5,5,10,'GCH1 expression',6.3));
topDensity([257.3,430,430.3,460.5],.122,3.376,hTopDensity);
rightDensity([432,463,464,630],-1,34.5,hRightDensity);
label('<i>R</i> = 0.21, <i>p</i> = 0.0068',265,475,{size:6.4,align:'left',color:'#333'});

scatterPanel([443.3,666.3,612.3,830.7],[427,663,616,848],kPoints,kFit,kFitUpper,kFitLower,
  gridAxis(-2.6,57.2,10,20,'LINC02381 expression'),gridAxis(8.53,12.85,.5,1,'hsa-miR-27a-3p expression'));
topDensity([443.3,634,612.3,664.5],-2.6,57.2,kTopDensity);
rightDensity([614,666.3,645.5,830.7],8.53,12.85,kRightDensity);
label('<i>R</i> = −0.4, <i>p</i> = 2e−07',452,678.5,{size:6.4,align:'left',color:'#333'});

scatterPanel([664.3,666.3,825,830.7],[648,663,829,848],lPoints,lFit,lFitUpper,lFitLower,
  gridAxis(-2.47,57,10,20,'LINC02381 expression'),gridAxis(-.87,34.7,5,10,'GCH1 expression',6.3));
topDensity([664.3,634,825,664.5],-2.47,57,lTopDensity);
rightDensity([826.7,666.3,857,830.7],-.87,34.7,lRightDensity);
label('<i>R</i> = 0.1, <i>p</i> = 0.2',672.5,679,{size:6.4,align:'left',color:'#333'});

// ---------- box + jitter panels ----------
function boxPanel(plot,outer,nPts,tPts,nBox,tBox,bracket,ymin,ymax,step,xmin,xmax,width,title){
  const sets=[
    scatterSet(nPts,'#0000ff',1.4),
    scatterSet(tPts,'#ff0000',1.4),
    {data:bracket.map(toXY),borderColor:'#555',borderWidth:.7,pointRadius:0},
    ...boxSets([0],[nBox[0]],[nBox[1]],[nBox[2]],[nBox[3]],[nBox[4]],'#3a3aff',width,1),
    ...boxSets([1],[tBox[0]],[tBox[1]],[tBox[2]],[tBox[3]],[tBox[4]],'#ff3a3a',width,1)
  ];
  const xa=classicAxis(xmin,xmax,1,'',{tickSize:7,format:v=>['Normal','Tumor'][v]});
  const ya=classicAxis(ymin,ymax,step,title,{tickSize:7});
  placedChart(plot,outer,sets,xa,ya);
}
boxPanel([30.7,283,211.7,420.7],[10,278,216,432],dNormal,dTumor,dNormalBox,dTumorBox,dBracket,8.49,13.03,1,-.597,1.593,58,'hsa-miR-27a-3p expression');
label('4.4e-06',121,284.5,{size:6.5});
typeLegend(267,87,99,120,134,155);

boxPanel([26.7,693.3,213.3,832.3],[10,688,218,845],iNormal,iTumor,iNormalBox,iTumorBox,iBracket,.114,3.77,1,-.6,1.596,59.5,'TMEM161B-AS1 expression');
label('0.001',120,696,{size:6.5});
typeLegend(678,86,98,119,133,154);

boxPanel([30.7,883.3,213.3,1022.7],[10,878,218,1035],mNormal,mTumor,mNormalBox,mTumorBox,mBracket,-2.9,68,20,-.596,1.596,58,'LINC02381 expression');
label('0.00028',122,885.5,{size:6.5});
typeLegend(868,88,100,121,135,156);

// ---------- survival panels ----------
function survivalPanel(plot,outer,high,low,hu,hl,lu,ll,hc,lc,xmin,xmax,ymin,ymax){
  const band=(a,b,col)=>[
    {data:a.map(toXY),stepped:'before',borderWidth:0,pointRadius:0,fill:'+1',backgroundColor:col},
    {data:b.map(toXY),stepped:'before',borderWidth:0,pointRadius:0}];
  const cens=(pts,col)=>({type:'scatter',data:pts.map(toXY),pointStyle:'cross',pointRadius:2,pointBorderColor:col,pointBorderWidth:.7,showLine:false});
  const sets=[cens(hc,'#ff0000'),cens(lc,'#0000ff'),
    {data:high.map(toXY),stepped:'before',borderColor:'#ff0000',borderWidth:1.2,pointRadius:0},
    {data:low.map(toXY),stepped:'before',borderColor:'#0000ff',borderWidth:1.2,pointRadius:0},
    ...band(lu,ll,'rgba(0,0,255,.3)'),
    ...band(hu,hl,'rgba(255,0,0,.3)')];
  const xa=classicAxis(xmin,xmax,1,'Time(years)',{tickSize:6.5,titleSize:8.3});
  const ya=classicAxis(ymin,ymax,.25,'Overall survival',{tickSize:6.5,titleSize:8,format:v=>v.toFixed(2)});
  placedChart(plot,outer,sets,xa,ya);
}
survivalPanel([244.3,263.3,441,420.3],[217,258,446,439],eHigh,eLow,eHighUpper,eHighLower,eLowUpper,eLowLower,eHighCensor,eLowCensor,-.51,10.5,-.05,1.04);
label('p=0.012',275,385,{size:10,color:'#333'});
survivalLegend(247,'hsa-miR-27a-3p',317,343,361,370,387);

survivalPanel([240.7,688.3,419.3,832.3],[216,683,424,850],jHigh,jLow,jHighUpper,jHighLower,jLowUpper,jLowLower,jHighCensor,jLowCensor,-.294,6.28,-.05,1.046);
label('p&lt;0.001',268.5,800,{size:10,color:'#333'});
survivalLegend(673.5,'TMEM161B-AS1',307,331,347,355,370);

survivalPanel([242.7,878,422.7,1025.7],[217,873,428,1043],nHigh,nLow,nHighUpper,nHighLower,nLowUpper,nLowLower,nHighCensor,nLowCensor,-.274,6.24,-.054,1.044);
label('p=0.198',270.5,992,{size:10,color:'#333'});
survivalLegend(862.5,'LINC02381',310,327.5,344,352.5,368);

// ---------- networks ----------
function shape(kind,w,h,fill,lw){
  const c=document.createElement('canvas');
  c.width=w+2; c.height=h+2;
  const g=c.getContext('2d'),cx=c.width/2,cy=c.height/2;
  g.beginPath();
  if(kind==='ellipse'){ g.ellipse(cx,cy,w/2,h/2,0,0,Math.PI*2); }
  if(kind==='diamond'){ g.moveTo(cx,cy-h/2); g.lineTo(cx+w/2,cy); g.lineTo(cx,cy+h/2); g.lineTo(cx-w/2,cy); g.closePath(); }
  if(kind==='octagon'){
    const a=w*.29,b=h*.29;
    g.moveTo(cx-w/2+a,cy-h/2); g.lineTo(cx+w/2-a,cy-h/2); g.lineTo(cx+w/2,cy-h/2+b); g.lineTo(cx+w/2,cy+h/2-b);
    g.lineTo(cx+w/2-a,cy+h/2); g.lineTo(cx-w/2+a,cy+h/2); g.lineTo(cx-w/2,cy+h/2-b); g.lineTo(cx-w/2,cy-h/2+b); g.closePath();
  }
  g.fillStyle=fill; g.fill();
  g.lineWidth=lw; g.strokeStyle='#111'; g.stroke();
  return c;
}
function nodeSet(nodes,style,size,color){
  return {type:'scatter',showLine:false,data:nodes.map(a=>({x:a[1],y:a[2]})),pointStyle:style,pointRadius:1,
    pointTexts:nodes.map(a=>a[0]),textSize:size,textColor:color||'#111',clip:false};
}
function spokes(hub,nodes,width,color){
  const path=[];
  nodes.forEach(a=>{path.push({x:hub[1],y:hub[2]},{x:a[1],y:a[2]});});
  return {type:'scatter',showLine:true,data:path,borderColor:color,borderWidth:width,borderJoinStyle:'bevel',pointRadius:0};
}
function networkChart(L,T,W,H,sets){
  new Chart(addCanvas(L,T,W,H),{type:'scatter',data:{datasets:sets},
    options:{scales:{x:{type:'linear',display:false,min:0,max:W*3},y:{type:'linear',display:false,reverse:true,min:0,max:H*3}}},
    plugins:[textOnPoints]});
}
networkChart(425,240,433,400,[
  nodeSet([fHub],shape('octagon',45,30,'#f5003c',1),11),
  nodeSet([fLink],shape('ellipse',45,29,'#ffff33',1),6.9),
  nodeSet(fNodes,shape('ellipse',44,29,'#0a62e6',.9),6.9),
  spokes(fHub,[...fNodes,fLink],.7,'#555')
]);
networkChart(430,855,428,400,[
  nodeSet([oHub],shape('ellipse',35,24,'#0a62e6',.8),6.1),
  nodeSet(oLinks,shape('diamond',35,24,'#ffe033',.8),6.1),
  nodeSet(oNodes,shape('diamond',35,24,'#55ec2a',.7),6.1),
  spokes(oHub,[...oNodes,...oLinks],.7,'#555')
]);
networkChart(0,1040,430,215,[
  nodeSet([pGene],shape('octagon',80,53,'#ff0033',1),20),
  nodeSet([pMir],shape('ellipse',79,53,'#0066ff',1),12.2),
  nodeSet([pLnc],shape('diamond',78,53,'#99ff33',1),11.8),
  {type:'scatter',showLine:true,data:[pLnc,pMir,pGene].map(a=>({x:a[1],y:a[2]})),borderColor:'#444',borderWidth:1,pointRadius:0}
]);

// ---------- panel letters ----------
[['A',9,11],['B',406,10],['C',630,11],['D',9,242],['E',227,246],['F',466,258],['G',11,434],['H',233,450],['I',4,667],['J',223,659],['K',431,646],['L',645,642],['M',11,864],['N',218,860],['O',447,865],['P',8,1082]]
  .forEach(p=>label(p[0],p[1],p[2],{size:20,bold:true,color:'#000'}));
</script>
</body>
</html>
